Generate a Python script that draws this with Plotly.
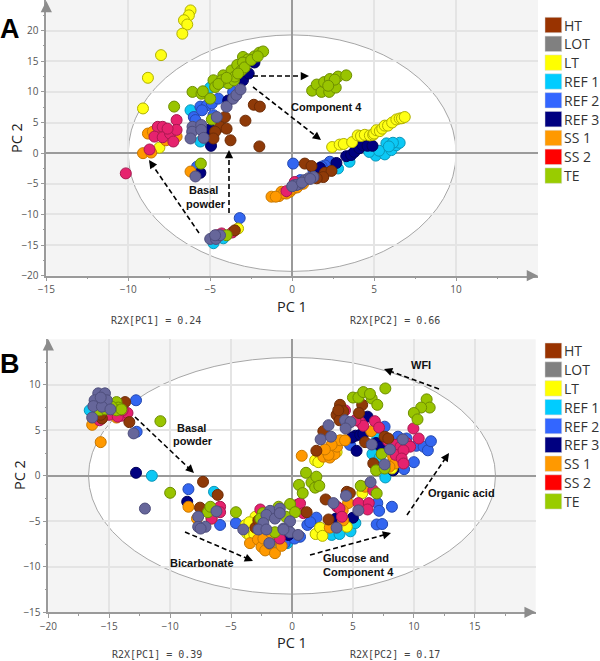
import plotly.graph_objects as go

W, H = 600, 661
GROUPS = ["HT", "LOT", "LT", "REF 1", "REF 2", "REF 3", "SS 1", "SS 2", "TE"]
LEGEND_COLORS = ["#993300", "#808080", "#ffff00", "#00ccff", "#3366ff", "#000080", "#ff9900", "#ff0000", "#99cc00"]
POINT_COLORS = {"HT": "#8f3a08", "LOT": "#66669a", "LT": "#ffff14", "REF 1": "#0cc8f5", "REF 2": "#3366f0",
                "REF 3": "#000080", "SS 1": "#ff9900", "SS 2": "#e6226e", "TE": "#99c400"}
EDGE_COLORS = {"HT": "#6e2c06", "LOT": "#4e4e7c", "LT": "#b0b000", "REF 1": "#0a96b8", "REF 2": "#2448b0",
               "REF 3": "#00005a", "SS 1": "#c87800", "SS 2": "#a81850", "TE": "#6e8e00"}
DRAW_ORDER = ["REF 1", "REF 2", "REF 3", "LT", "SS 1", "SS 2", "HT", "TE", "LOT"]

# ---- Panel A scores
A_HT_x = [-4.1, -4.4, -4.7, -4.8, -4.0, -3.76, -2.85, -2.34, -1.97, -2.0, -3.5, 0.77, 1.18, 2.0, 2.4, 1.9, 1.5]
A_HT_y = [5.9, 4.3, 3.5, 2.4, 4.0, 2.1, 5.3, 7.9, 7.6, 1.1, -12.6, -1.7, -2.1, -3.2, -2.9, -3.9, -4.1]
A_LOT_x = [-6.08, -6.1, -5.55, -5.55, -6.2, -5.4, -4.6, -4.0, -3.6, -3.4, -3.15, -5.9, -5.0, -4.65, -4.4, -4.7, 0.16, 0.47, 0.77, 1.0, 1.3, 0.26, 0.0, 0.6, 1.1]
A_LOT_y = [4.3, 3.5, 4.6, 3.8, 2.4, 2.5, 5.9, 7.6, 8.9, 9.5, 10.4, -3.8, -14.0, -14.0, -13.4, -13.4, -5.2, -5.0, -4.4, -4.1, -3.9, -5.2, -5.4, -4.8, -4.2]
A_LT_x = [-6.2, -6.3, -6.6, -6.4, -6.7, -8.0, -8.8, -9.1, -8.1, -3.3, 2.44, 2.9, 3.15, 3.66, 4.0, 4.2, 4.43, 4.74, 4.94, 5.0, 5.14, 5.35, 5.5, 5.65, 5.85, 6.1, 6.36, 6.56, 6.7, 6.87]
A_LT_y = [23.3, 22.5, 21.7, 21.0, 19.5, 16.0, 12.3, 7.3, 0.9, -12.3, 1.0, 1.4, 1.5, 1.8, 2.9, 2.8, 3.0, 2.9, 3.0, 3.2, 3.75, 3.6, 4.0, 4.5, 4.5, 5.0, 5.5, 5.66, 5.7, 5.9]
A_REF1_x = [-6.2, -5.6, -4.8, -4.2, -5.0, -4.3, 5.1, 5.65, 6.06, 6.36, 6.56, 5.75, 6.15, 4.7, 3.5, 2.8, 5.3, 5.9]
A_REF1_y = [7.0, 1.9, -14.7, -13.9, 10.7, 11.6, -0.4, -0.2, 0.5, 1.3, 1.7, 1.6, 1.7, 0.2, -1.4, -2.5, 0.4, 1.1]
A_REF2_x = [0.06, -3.2, -5.8, -6.0, -5.6, -5.2, -4.9, -4.5, -4.8, -3.6, -5.5, -5.9, 2.3, 2.0, 1.8, 1.3, 0.5]
A_REF2_y = [-1.7, -10.6, -2.2, 5.9, 7.6, 7.8, 8.1, 8.9, 6.2, 10.0, 7.0, 5.4, -1.4, -2.0, -2.2, -2.8, -4.4]
A_REF3_x = [-4.95, -5.0, -5.6, -3.0, -2.65, -2.3, -3.9, 2.7, 3.3, 3.6, 3.8, 4.1, 4.3, 4.6, 4.9, 1.7]
A_REF3_y = [1.2, 3.9, -3.2, 11.9, 13.0, 14.8, 8.6, -1.6, -0.5, -0.3, 0.2, 0.8, 1.3, 1.2, 1.2, -2.4]
A_SS1_x = [-9.1, -8.6, -8.8, -6.2, -8.5, -7.7, -7.05, -8.0, -1.26, -0.8, -0.65, -0.14, 0.16, -0.35, 0.06, 0.67, -0.5, 0.3, -1.0]
A_SS1_y = [0.0, 0.1, 3.2, -3.0, 3.5, 2.1, 2.7, 3.0, -7.1, -7.0, -6.3, -6.3, -5.5, -6.6, -5.8, -5.0, -6.5, -5.6, -7.1]
A_SS2_x = [-10.15, -8.7, -7.05, -8.2, -7.9, -8.4, -7.9, -7.45, -7.05, -7.25, -7.6, -0.35, 0.16, -3.66, -4.6, -4.3]
A_SS2_y = [-3.3, 0.6, 5.4, 4.3, 4.3, 2.7, 2.6, 3.2, 3.8, 1.9, 4.0, -6.2, -4.7, -12.95, -13.4, -13.1]
A_TE_x = [-6.08, -5.53, -5.45, -5.0, -7.2, -4.9, -5.57, -4.0, -4.8, -4.7, -4.2, -3.9, -3.7, -3.35, -3.1, -3.0, -2.7, -2.3, -2.0, -1.77, -3.55, -4.3, -3.0, -4.5, -3.5, -2.9, -3.3, -2.5, -2.1, -4.0, 1.22, 1.5, 1.79, 1.95, 2.26, 2.3, 2.66, 2.8, 3.3, 2.6, 2.2]
A_TE_y = [10.0, 9.7, 10.1, 8.9, 7.6, 5.5, -1.7, -13.4, 11.9, 10.8, 12.7, 11.4, 13.5, 14.4, 13.5, 15.7, 15.3, 15.8, 16.4, 16.6, 11.9, 11.9, 14.8, 11.3, 12.5, 14.0, 13.0, 15.2, 15.8, 12.3, 10.2, 11.2, 10.0, 11.6, 10.0, 12.1, 10.7, 12.5, 12.7, 12.0, 11.0]

# ---- Panel B scores
B_HT_x = [-13.7, -13.35, -7.3, -6.1, -7.55, -3.0, -2.76, -15.6, -15.7, 1.2, 2.76, 3.0, 4.5, 4.75, 3.94, 3.66, 3.9, 4.2, 3.8, 5.76, 5.5, 2.57, 2.0, 6.0, 7.6, 6.67, 7.9]
B_HT_y = [8.1, 5.9, -0.66, -2.1, -3.5, -5.7, -4.9, 6.3, 6.7, -4.0, -2.6, -4.8, -1.76, -1.9, 7.8, 6.7, 6.1, 7.1, 7.2, 7.8, 6.9, 4.9, 2.75, 3.7, 4.3, 1.36, 4.1]
B_LOT_x = [-15.9, -15.35, -16.2, -15.2, -16.3, -15.6, -14.9, -16.4, -15.7, -13.0, -12.07, -7.7, -7.7, -7.1, -7.5, -6.2, -4.0, -1.8, -1.0, -2.1, -1.4, -0.16, -2.35, -2.76, -2.1, -0.7, -1.86, -0.16, 0.5, -1.0, -0.7, 3.4, 3.66, 4.43, 5.45, 6.45, 7.6, 8.04, 6.54, 9.1, 2.35, 3.2, 3.0, 4.35, 4.8, 4.4]
B_LOT_y = [9.06, 9.06, 8.3, 8.3, 7.66, 7.6, 7.3, 6.4, 8.6, 4.66, -3.6, -4.5, -5.6, -5.6, -5.8, -3.9, -5.9, -3.85, -3.6, -4.3, -4.7, -5.0, -5.2, -5.9, -5.9, -5.8, -7.4, -6.2, -6.5, -4.1, -5.9, -3.0, -5.7, -2.2, -3.8, -0.7, 1.25, 2.9, 3.44, 4.0, 4.0, 4.3, 5.56, 6.1, 5.9, 5.2]
B_LT_x = [-3.0, -3.8, -3.7, -3.45, -2.9, -3.3, -3.5, -3.1, 1.94, 2.3, 2.5, 4.5, 5.77, 1.9, 2.16, 3.66, 8.2]
B_LT_y = [-4.5, -5.4, -6.3, -6.6, -6.0, -5.8, -5.1, -6.4, -6.4, -5.7, -6.6, -5.6, -1.9, 1.7, 1.5, 2.6, 0.8]
B_REF1_x = [-16.6, -11.5, -6.4, 6.6, 7.0, 7.66, 3.26, 3.9, 4.8, 5.2, 7.2, -1.5, -0.4]
B_REF1_y = [7.2, 0.0, -1.76, 2.4, 4.1, -0.18, -6.5, -6.4, -6.1, -5.2, 2.0, -7.4, -7.4]
B_REF2_x = [-12.8, -12.75, -8.5, -5.9, -4.6, -0.6, 1.26, 2.0, 1.5, 0.66, 0.2, 6.95, 7.4, 8.2, 7.0, 7.15, 8.7, 9.0, 9.4, 10.2, 10.8, 11.15, 11.4, 10.0, 9.2, 7.6, 4.76]
B_REF2_y = [8.3, 4.84, -1.47, -5.4, -5.2, -7.4, -5.4, -4.6, -5.1, -6.7, -6.9, -5.35, -5.3, -3.4, -3.0, -3.85, 4.3, 3.9, 4.1, 3.3, 3.2, 2.8, 3.8, 1.5, 0.73, 5.4, 3.4]
B_REF3_x = [-12.8, -8.6, -0.16, 5.3, 6.2, 5.2, 4.9, 5.6, 5.85, 6.9, 7.3, 8.3, 5.0, 3.6, -0.3]
B_REF3_y = [0.33, -2.85, -6.3, 2.75, 6.5, 4.4, 4.2, 4.5, 4.6, 3.6, 3.2, 0.6, -4.6, -4.7, -6.5]
B_SS1_x = [-16.4, -15.7, -15.6, -14.4, -8.5, -7.8, -6.6, -3.45, -2.8, -2.5, -2.2, -2.0, -1.8, -1.4, -0.85, -2.35, -1.7, 0.8, 4.2, 3.1, 4.6, 4.16, 2.57, 2.9, 3.1, 3.3, 3.5, 3.7, 3.95, 3.0, 4.35, 3.25, 2.7, 6.5, 8.3, 8.46, 8.0, 6.0]
B_SS1_y = [5.6, 3.7, 6.3, 6.4, -3.4, -4.7, -4.7, -7.4, -7.0, -7.8, -8.2, -7.0, -7.5, -8.5, -7.7, -6.9, -6.3, 2.2, -4.9, -5.7, -3.0, -3.8, 2.1, 2.7, 2.0, 2.8, 2.4, 3.2, 3.9, 2.3, 3.9, 3.4, 2.9, 4.9, 2.1, 1.35, 1.0, -1.2]
B_SS2_x = [-14.7, -14.0, -13.5, -15.8, -15.0, -14.3, -13.9, -5.9, -5.9, -6.6, -2.6, -1.0, 0.4, 0.66, 0.93, 3.7, 3.9, 4.1, 5.45, 6.3, 6.2, 6.67, 4.35, 5.6, 6.8, 7.15, 9.96, 10.4, 7.9, 8.45, 8.9, 8.5, 9.4, 9.7, 9.15, 9.0, 9.15, 5.85, 5.2]
B_SS2_y = [6.9, 6.6, 6.9, 6.1, 6.7, 6.5, 7.2, -3.4, -4.0, -4.7, -3.7, -6.9, -3.2, -3.03, -4.1, -3.4, -3.6, -4.5, -3.0, -3.0, -3.7, -1.6, 7.2, 5.9, 6.0, 5.3, 5.2, 4.1, 3.8, 3.4, 3.2, 2.3, 3.6, 3.2, 2.8, 1.9, 1.35, 5.5, 6.1]
B_TE_x = [-10.8, -10.0, -6.9, -6.7, -4.6, -14.4, -14.25, -14.4, -15.8, -14.8, -15.3, -14.0, -2.4, -2.0, -1.5, -0.5, -1.1, -0.16, 0.25, -2.6, -1.4, 0.57, 0.88, 1.15, 1.6, 2.0, 1.9, 2.24, 5.64, 6.95, 7.36, 6.9, 7.6, 5.0, 5.45, 5.85, 6.54, 6.4, 7.0, 7.66, 11.05, 11.3, 10.6, 10.0, 10.3]
B_TE_y = [6.0, -1.87, -4.0, -3.4, -4.0, 8.1, 7.5, 7.2, 7.2, 7.6, 7.3, 7.3, -4.1, -4.3, -4.0, -4.5, -3.4, -3.1, -4.0, -4.7, -6.2, -1.0, -1.9, 0.33, -0.73, -0.1, -1.3, -1.1, -1.1, -1.94, 2.4, 0.6, 0.8, 8.6, 8.6, 9.2, 8.5, 9.0, 7.8, 9.6, 8.4, 7.5, 7.5, 6.9, 6.2]

A_DATA = {"HT": (A_HT_x, A_HT_y), "LOT": (A_LOT_x, A_LOT_y), "LT": (A_LT_x, A_LT_y), "REF 1": (A_REF1_x, A_REF1_y),
          "REF 2": (A_REF2_x, A_REF2_y), "REF 3": (A_REF3_x, A_REF3_y), "SS 1": (A_SS1_x, A_SS1_y),
          "SS 2": (A_SS2_x, A_SS2_y), "TE": (A_TE_x, A_TE_y)}
B_DATA = {"HT": (B_HT_x, B_HT_y), "LOT": (B_LOT_x, B_LOT_y), "LT": (B_LT_x, B_LT_y), "REF 1": (B_REF1_x, B_REF1_y),
          "REF 2": (B_REF2_x, B_REF2_y), "REF 3": (B_REF3_x, B_REF3_y), "SS 1": (B_SS1_x, B_SS1_y),
          "SS 2": (B_SS2_x, B_SS2_y), "TE": (B_TE_x, B_TE_y)}

# ---- Arrows (tail px, head px) and labels
A_ARROWS = [((253, 76), (309, 76)), ((253, 87), (321, 140)), ((229, 213), (229, 150)), ((199, 233), (149, 160))]
B_ARROWS = [((135, 417), (194, 473)), ((185, 532), (253, 561)), ((310, 555), (391, 533)), ((407, 515), (449, 453)), ((439, 389), (384, 369))]
NOTES = [("Component 4", 326, 107), ("Basal", 203, 190), ("powder", 206, 204),
         ("Basal", 191, 428), ("powder", 193, 441), ("Bicarbonate", 202, 563),
         ("WFI", 421, 365), ("Organic acid", 461, 493), ("Glucose and", 356, 558), ("Component 4", 358, 572)]

def px(x, y):
    return x / W, 1 - y / H

fig = go.Figure()
for key, data, xa, ya in (("A", A_DATA, "x", "y"), ("B", B_DATA, "x2", "y2")):
    for g in DRAW_ORDER:
        fig.add_trace(go.Scatter(x=data[g][0], y=data[g][1], mode="markers", name=g, xaxis=xa, yaxis=ya, showlegend=False,
                                 marker=dict(size=11, color=POINT_COLORS[g], line=dict(width=1, color=EDGE_COLORS[g]))))

GRID = "#e4e4e4"
AXC = "#9a9a9a"
TICKF = dict(family="Open Sans", size=10, color="#555555")

def axis(dom, rng, vals, minor, anchor):
    return dict(domain=dom, range=rng, tickvals=vals, ticks="outside", ticklen=4, tickcolor=AXC, showline=True, linecolor=AXC,
                linewidth=1.5, showgrid=True, gridcolor=GRID, gridwidth=1.5, zeroline=True, zerolinecolor=AXC, zerolinewidth=2,
                tickfont=TICKF, anchor=anchor, automargin=False,
                minor=dict(tickvals=minor, ticks="outside", ticklen=2, tickcolor=AXC, showgrid=False))

xa_dom = [46.3 / W, 538 / W]
ya_dom = [1 - 275.7 / H, 1]
xb_dom = [48.3 / W, 535.7 / W]
yb_dom = [1 - 612.3 / H, 1 - 339.3 / H]

fig.update_layout(
    width=W, height=H, margin=dict(l=0, r=0, t=0, b=0, pad=0, autoexpand=False), paper_bgcolor="white", plot_bgcolor="#f4f4f4", showlegend=False,
    xaxis=axis(xa_dom, [-15, 15], [-15, -10, -5, 0, 5, 10], [-12.5, -7.5, -2.5, 2.5, 7.5, 12.5], "y"),
    yaxis=axis(ya_dom, [-20, 25], [-20, -15, -10, -5, 0, 5, 10, 15, 20], [-17.5, -12.5, -7.5, -2.5, 2.5, 7.5, 12.5, 17.5, 22.5], "x"),
    xaxis2=axis(xb_dom, [-20, 20], [-20, -15, -10, -5, 0, 5, 10, 15], [-17.5, -12.5, -7.5, -2.5, 2.5, 7.5, 12.5, 17.5], "y2"),
    yaxis2=axis(yb_dom, [-15, 15], [-15, -10, -5, 0, 5, 10], [-12.5, -7.5, -2.5, 2.5, 7.5, 12.5], "x2"),
)

shapes, ann = [], []
# Hotelling ellipses
shapes.append(dict(type="circle", xref="x", yref="y", x0=-10, x1=10, y0=-19.3, y1=19.3, layer="below", fillcolor="white", line=dict(color="#a6a6a6", width=1)))
shapes.append(dict(type="circle", xref="x2", yref="y2", x0=-16.7, x1=16.7, y0=-13, y1=13, layer="below", fillcolor="white", line=dict(color="#a6a6a6", width=1)))

# dashed arrows
for tail, head in A_ARROWS + B_ARROWS:
    dx, dy = head[0] - tail[0], head[1] - tail[1]
    d = (dx * dx + dy * dy) ** 0.5
    x0, y0 = px(*tail)
    stop = (head[0] - dx / d * 5, head[1] - dy / d * 5)
    x1, y1 = px(*stop)
    shapes.append(dict(type="line", xref="paper", yref="paper", x0=x0, y0=y0, x1=x1, y1=y1, line=dict(color="black", width=1.6, dash="5px,3px")))
    hx, hy = px(*head)
    ann.append(dict(xref="paper", yref="paper", x=hx, y=hy, ax=-dx / d * 8, ay=-dy / d * 8, text="", showarrow=True,
                    arrowhead=2, arrowsize=1.1, arrowwidth=1.5, arrowcolor="black", standoff=0))

# axis-end arrows
for (hx, hy, ax, ay) in [(46.3, 1, 0, 12), (538, 275.7, -12, 0), (48.3, 339.3, 0, 12), (535.7, 612.3, -12, 0)]:
    x, y = px(hx, hy)
    ann.append(dict(xref="paper", yref="paper", x=x, y=y, ax=ax, ay=ay, text="", showarrow=True, arrowhead=2, arrowsize=1.5,
                    arrowwidth=1.5, arrowcolor="#8c8c8c", standoff=0))

for t, x, y in NOTES:
    xx, yy = px(x, y)
    ann.append(dict(xref="paper", yref="paper", x=xx, y=yy, text="<b>" + t + "</b>", showarrow=False, xanchor="center", yanchor="middle",
                    font=dict(family="Liberation Sans", size=11, color="#111111")))

def label(t, x, y, font, rot=0):
    xx, yy = px(x, y)
    ann.append(dict(xref="paper", yref="paper", x=xx, y=yy, text=t, showarrow=False, xanchor="center", yanchor="middle", textangle=rot, font=font))

SANS = dict(family="Open Sans", size=14.5, color="#222222")
MONO = dict(family="DejaVu Sans Mono", size=10, color="#444444")
label("PC 1", 292, 306, SANS)
label("PC 1", 292, 642, SANS)
label("PC 2", 16, 138, SANS, -90)
label("PC 2", 19, 475, SANS, -90)
label("R2X[PC1] = 0.24", 156, 320, MONO)
label("R2X[PC2] = 0.66", 395, 320, MONO)
label("R2X[PC1] = 0.39", 157, 654.5, MONO)
label("R2X[PC2] = 0.17", 395, 654.5, MONO)
label("<b>A</b>", 10, 29, dict(family="Liberation Sans", size=27, color="black"))
label("<b>B</b>", 10, 364, dict(family="Liberation Sans", size=27, color="black"))

# group keys beside each panel
for first in (25, 350.7):
    for i, (g, c) in enumerate(zip(GROUPS, LEGEND_COLORS)):
        cy = first + i * 18.83
        x0, y0 = px(545, cy - 7.7)
        x1, y1 = px(561.7, cy + 7.7)
        shapes.append(dict(type="rect", xref="paper", yref="paper", x0=x0, y0=y0, x1=x1, y1=y1, fillcolor=c, line=dict(color="#d8d8d8", width=0.5)))
        xx, yy = px(561.5, cy)
        ann.append(dict(xref="paper", yref="paper", x=xx, y=yy, text=g, showarrow=False, xanchor="left", yanchor="middle",
                        font=dict(family="Open Sans", size=14, color="#333333")))

fig.update_layout(shapes=shapes, annotations=ann)
fig.write_html("out.html", config={"displayModeBar": False}, post_script="document.body.style.margin='0';")
